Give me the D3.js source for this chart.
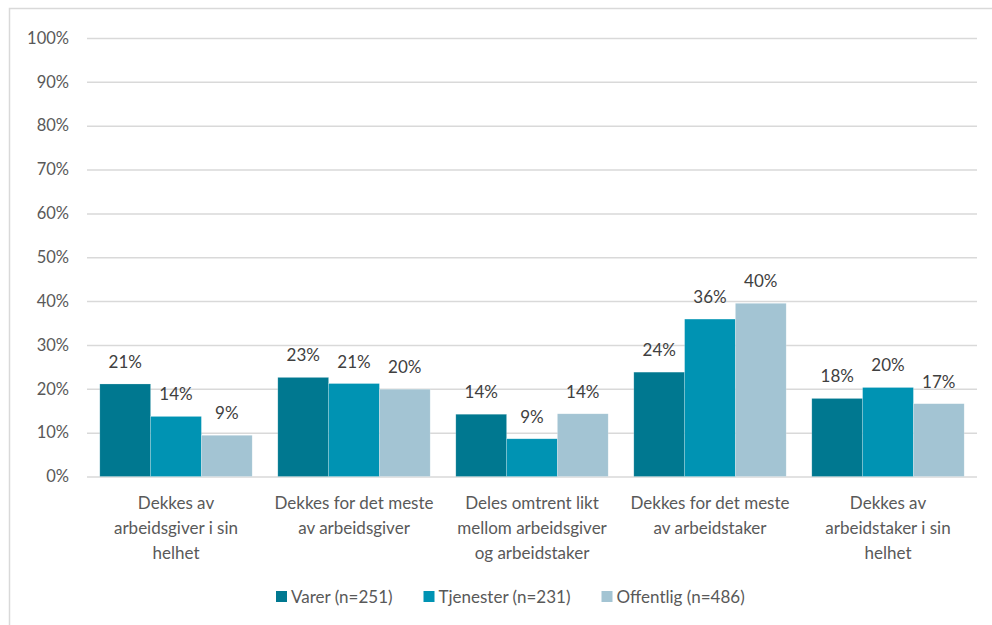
<!DOCTYPE html>
<html>
<head>
<meta charset="utf-8">
<script src="https://cdn.jsdelivr.net/npm/d3@7"></script>
<style>
  body { margin: 0; background: #fff; }
  svg { display: block; font-family: Lato, "Open Sans", sans-serif; }
</style>
</head>
<body>
<svg></svg>
<script>
let categories = [
  ["Dekkes av", "arbeidsgiver i sin", "helhet"],
  ["Dekkes for det meste", "av arbeidsgiver"],
  ["Deles omtrent likt", "mellom arbeidsgiver", "og arbeidstaker"],
  ["Dekkes for det meste", "av arbeidstaker"],
  ["Dekkes av", "arbeidstaker i sin", "helhet"]
]
let seriesNames = ["Varer (n=251)", "Tjenester (n=231)", "Offentlig (n=486)"]
let varer = [21.1, 22.6, 14.2, 23.8, 17.8]
let tjenester = [13.7, 21.2, 8.6, 35.9, 20.3]
let offentlig = [9.4, 19.9, 14.3, 39.5, 16.6]
let yTicks = [0, 10, 20, 30, 40, 50, 60, 70, 80, 90, 100]
let colors = ["#007890", "#0093B3", "#A3C4D3"]

let svgWidth = 992
let svgHeight = 625
let margin = { left: 87, right: 15, top: 38, bottom: 148.5 }

let svg = d3.select("svg")
  .attr("width", svgWidth)
  .attr("height", svgHeight)

// chart border (top + left, the rest is cropped)
svg.append("rect")
  .attr("x", 9.5)
  .attr("y", 8.5)
  .attr("width", 1000)
  .attr("height", 700)
  .attr("fill", "none")
  .attr("stroke", "#D9D9D9")
  .attr("stroke-width", 1.5)

let seriesData = [varer, tjenester, offentlig]

// SCALES
let xScale = d3.scaleBand()
  .domain(d3.range(categories.length))
  .range([margin.left, svgWidth - margin.right])
  .paddingInner(0.144)
  .paddingOuter(0.072)

let xInner = d3.scaleBand()
  .domain(d3.range(seriesData.length))
  .range([0, xScale.bandwidth()])

let yScale = d3.scaleLinear()
  .domain([0, 100])
  .range([svgHeight - margin.bottom, margin.top])

// GRID + Y AXIS
let yAxis = d3.axisLeft(yScale)
  .tickValues(yTicks)
  .tickSize(-(svgWidth - margin.right - margin.left))
  .tickPadding(18)
  .tickFormat(d => d + "%")

let gy = svg.append("g")
  .attr("transform", `translate(${margin.left}, 0)`)
  .call(yAxis)

gy.select(".domain").remove()
gy.selectAll("line")
  .attr("stroke", "#D9D9D9")
  .attr("stroke-width", 1.5)
gy.selectAll("text")
  .attr("fill", "#595959")
  .attr("font-size", 16.5)
  .attr("font-family", "Lato, sans-serif")

// BARS
let groups = svg.selectAll(".grp")
  .data(categories)
  .enter()
  .append("g")
  .attr("class", "grp")
  .attr("transform", (d, i) => `translate(${xScale(i)}, 0)`)

groups.each(function (c, ci) {
  let g = d3.select(this)
  seriesData.forEach((vals, si) => {
    let v = vals[ci]
    g.append("rect")
      .attr("x", xInner(si))
      .attr("y", yScale(v))
      .attr("width", xInner.bandwidth())
      .attr("height", yScale(0) - yScale(v))
      .attr("fill", colors[si])
      .attr("stroke", "rgba(255,255,255,0.35)")
      .attr("stroke-width", 0.6)
    g.append("text")
      .attr("x", xInner(si) + xInner.bandwidth() / 2)
      .attr("y", yScale(v) - 16)
      .attr("text-anchor", "middle")
      .attr("font-size", 17)
      .attr("fill", "#404040")
      .text(Math.round(v) + "%")
  })
})

// CATEGORY LABELS
let catLabels = svg.selectAll(".cat")
  .data(categories)
  .enter()
  .append("text")
  .attr("class", "cat")
  .attr("text-anchor", "middle")
  .attr("font-size", 17)
  .attr("fill", "#595959")
  .attr("transform", (d, i) => `translate(${xScale(i) + xScale.bandwidth() / 2}, 509)`)

catLabels.selectAll("tspan")
  .data(d => d)
  .enter()
  .append("tspan")
  .attr("x", 0)
  .attr("y", (d, i) => i * 24.8)
  .text(d => d)

// LEGEND
let legendX = [276, 423.5, 601.5]
let legend = svg.selectAll(".leg")
  .data(seriesNames)
  .enter()
  .append("g")
  .attr("class", "leg")
  .attr("transform", (d, i) => `translate(${legendX[i]}, 591)`)

legend.append("rect")
  .attr("width", 11)
  .attr("height", 11)
  .attr("fill", (d, i) => colors[i])

legend.append("text")
  .attr("x", 15)
  .attr("y", 11.5)
  .attr("font-size", 17)
  .attr("fill", "#595959")
  .text(d => d)
</script>
</body>
</html>
